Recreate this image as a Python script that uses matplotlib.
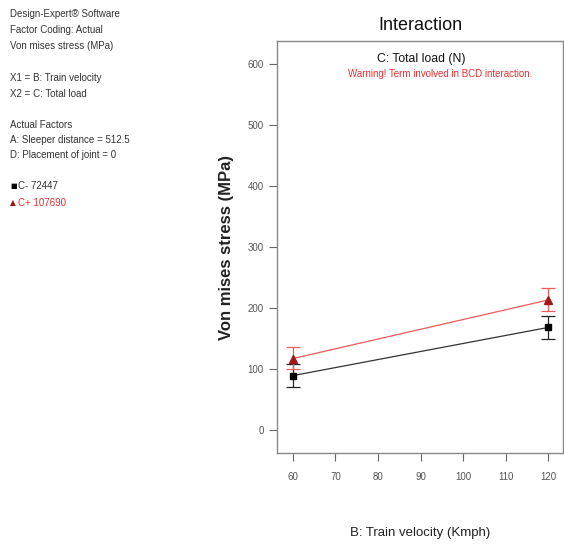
import matplotlib
matplotlib.use("Agg")
import matplotlib.pyplot as plt

plt.rcParams['font.family'] = ['Liberation Sans', 'DejaVu Sans']

velocity = [60, 120]
c_minus = [89, 168]
c_minus_lo = [70, 149]
c_minus_hi = [108, 186]
c_plus = [117, 213]
c_plus_lo = [100, 195]
c_plus_hi = [136, 233]
xticks = [60, 70, 80, 90, 100, 110, 120]
yticks = [0, 100, 200, 300, 400, 500, 600]

info_lines = [
    ("Design-Expert\u00ae Software", 14),
    ("Factor Coding: Actual", 30),
    ("Von mises stress (MPa)", 46),
    ("X1 = B: Train velocity", 78),
    ("X2 = C: Total load", 94),
    ("Actual Factors", 125),
    ("A: Sleeper distance = 512.5", 140),
    ("D: Placement of joint = 0", 155),
]

W, H = 564, 544
fig = plt.figure(figsize=(W/100, H/100), dpi=100)
ax = fig.add_axes([277/W, 1-453/H, (563-277)/W, (453-41)/H])

black = "#000000"
red_line = "#f05a5a"
red_mark = "#a01818"

ax.plot(velocity, c_minus, color="#333333", lw=0.9, zorder=2)
ax.plot(velocity, c_plus, color=red_line, lw=0.9, zorder=2)
ax.errorbar(velocity, c_minus,
            yerr=[[m - l for m, l in zip(c_minus, c_minus_lo)],
                  [h - m for m, h in zip(c_minus, c_minus_hi)]],
            fmt='s', color=black, ms=5, ecolor="#222222", elinewidth=0.9,
            capsize=5, capthick=0.9, zorder=3)
ax.errorbar(velocity, c_plus,
            yerr=[[m - l for m, l in zip(c_plus, c_plus_lo)],
                  [h - m for m, h in zip(c_plus, c_plus_hi)]],
            fmt='^', color=red_mark, ms=6, ecolor=red_line, elinewidth=0.9,
            capsize=5, capthick=0.9, zorder=3)

ax.set_xlim(56.25, 123.5)
ax.set_ylim(-38, 638)
ax.set_xticks(xticks)
ax.set_yticks(yticks)
ax.tick_params(axis='both', direction='out', length=6, width=0.8,
               color="#666666", labelcolor="#555555", labelsize=7)
ax.tick_params(axis='x', pad=8)
for sp in ax.spines.values():
    sp.set_color("#888888")
    sp.set_linewidth(1.0)

fig.text(420/W, 1-533/H, "B: Train velocity (Kmph)", ha='center', va='center',
         fontsize=9.5, color="#222222")
fig.text(226/W, 1-247/H, "Von mises stress (MPa)", ha='center', va='center',
         rotation=90, fontsize=12, color="#222222", fontweight='bold')

fig.text(420/W, 1-25/H, "Interaction", ha='center', va='center', fontsize=13, color="#111111")
fig.text(421/W, 1-59/H, "C: Total load (N)", ha='center', va='center', fontsize=8.8, color="#111111")
fig.text(440/W, 1-74/H, "Warning! Term involved in BCD interaction.", ha='center', va='center',
         fontsize=7, color="#e83030")

for txt, y in info_lines:
    fig.text(10/W, 1-y/H, txt, ha='left', va='center', fontsize=7,
             color="#333333")

fig.text(10/W, 1-186/H, "\u25a0", ha='left', va='center', fontsize=5, color=black, family=['DejaVu Sans'])
fig.text(18/W, 1-186/H, "C- 72447", ha='left', va='center', fontsize=7, color="#333333")
fig.text(9.5/W, 1-203/H, "\u25b2", ha='left', va='center', fontsize=5.5, color=red_mark, family=['DejaVu Sans'])
fig.text(18/W, 1-203/H, "C+ 107690", ha='left', va='center', fontsize=7, color="#e83030")

fig.savefig("out.png", dpi=100)
